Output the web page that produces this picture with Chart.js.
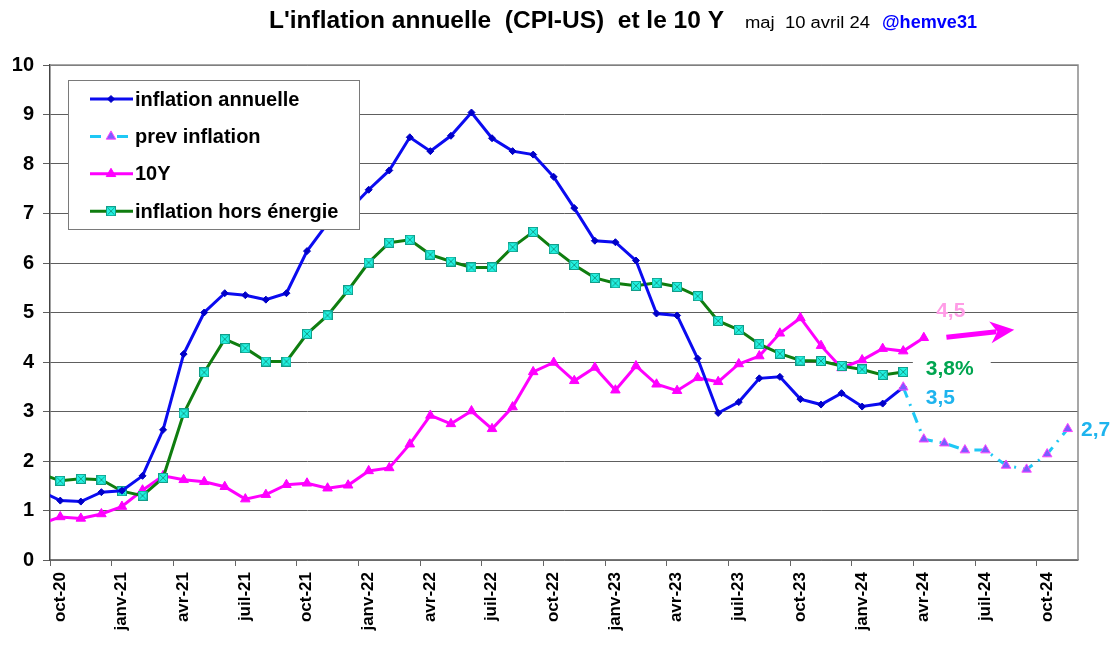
<!DOCTYPE html>
<html>
<head>
<meta charset="utf-8">
<script src="https://cdn.jsdelivr.net/npm/chart.js@4.4.1/dist/chart.umd.min.js"></script>
<style>
  html, body { margin: 0; padding: 0; background: #fff; }
  #chart { display: block; }
</style>
</head>
<body>
<canvas id="chart" width="1118" height="652"></canvas>
<script>
// months, index 0 = sept-20 (only its line segment shows, clipped at the left edge)
const months = [
  "sept-20","oct-20","nov-20","déc-20","janv-21","févr-21","mars-21","avr-21","mai-21","juin-21",
  "juil-21","août-21","sept-21","oct-21","nov-21","déc-21","janv-22","févr-22","mars-22","avr-22",
  "mai-22","juin-22","juil-22","août-22","sept-22","oct-22","nov-22","déc-22","janv-23","févr-23",
  "mars-23","avr-23","mai-23","juin-23","juil-23","août-23","sept-23","oct-23","nov-23","déc-23",
  "janv-24","févr-24","mars-24","avr-24","mai-24","juin-24","juil-24","août-24","sept-24","oct-24","nov-24"
];

const tickLabels = ["oct-20","janv-21","avr-21","juil-21","oct-21","janv-22","avr-22","juil-22","oct-22",
  "janv-23","avr-23","juil-23","oct-23","janv-24","avr-24","juil-24","oct-24"];

const inflation = [1.4, 1.2, 1.18, 1.37, 1.4, 1.7, 2.63, 4.16, 5.0, 5.39, 5.35, 5.26, 5.39, 6.24, 6.8, 7.05,
  7.48, 7.87, 8.54, 8.26, 8.57, 9.04, 8.52, 8.26, 8.19, 7.74, 7.11, 6.45, 6.42, 6.05, 4.98, 4.94, 4.07,
  2.97, 3.19, 3.67, 3.70, 3.25, 3.14, 3.37, 3.10, 3.16, 3.49];

const prevInflation = [null, null, null, null, null, null, null, null, null, null, null, null, null, null,
  null, null, null, null, null, null, null, null, null, null, null, null, null, null, null, null, null,
  null, null, null, null, null, null, null, null, null, null, null,
  3.49, 2.44, 2.36, 2.22, 2.22, 1.91, 1.83, 2.14, 2.65];

const tenYear = [0.72, 0.87, 0.84, 0.93, 1.08, 1.41, 1.70, 1.62, 1.58, 1.48, 1.23, 1.32, 1.52, 1.55, 1.45,
  1.51, 1.80, 1.86, 2.34, 2.92, 2.75, 3.01, 2.65, 3.09, 3.80, 3.99, 3.62, 3.89, 3.43, 3.92, 3.55, 3.42,
  3.68, 3.60, 3.96, 4.12, 4.58, 4.89, 4.33, 3.88, 4.04, 4.27, 4.22, 4.49];

const coreInflation = [1.75, 1.60, 1.64, 1.62, 1.39, 1.30, 1.66, 2.96, 3.79, 4.46, 4.28, 4.01, 4.01, 4.57,
  4.94, 5.45, 6.01, 6.41, 6.47, 6.17, 6.03, 5.91, 5.91, 6.32, 6.63, 6.28, 5.96, 5.70, 5.59, 5.54, 5.60,
  5.52, 5.33, 4.83, 4.65, 4.36, 4.17, 4.03, 4.02, 3.92, 3.85, 3.74, 3.80];

const seriesNames = ["inflation annuelle", "prev inflation", "10Y", "inflation hors énergie"];

// text notes next to the line ends: [x (month index), y (value), text, colour, white box]
const notes = [
  [43.6, 5.03, "4,5", "#ff9ce6", false],
  [43.1, 3.85, "3,8%", "#00a550", true],
  [43.1, 3.27, "3,5", "#1eb4ee", false],
  [50.65, 2.63, "2,7", "#1eb4ee", false]
];
const arrowFrom = [44.1, 4.5];
const arrowTo = [47.4, 4.65];

function toPoints(arr) {
  return arr.map((v, i) => v == null ? null : { x: i, y: v }).filter(Boolean);
}

function boxCross(size) {
  const c = document.createElement("canvas");
  c.width = c.height = size;
  const g = c.getContext("2d");
  g.fillStyle = "#22f2e2";
  g.fillRect(0, 0, size, size);
  g.strokeStyle = "#129e8a";
  g.lineWidth = 1;
  g.strokeRect(0.5, 0.5, size - 1, size - 1);
  g.beginPath();
  g.moveTo(1.5, 1.5); g.lineTo(size - 1.5, size - 1.5);
  g.moveTo(size - 1.5, 1.5); g.lineTo(1.5, size - 1.5);
  g.stroke();
  return c;
}
const coreMarker = boxCross(10);

function fitText(ctx, text, x, y, width) {
  const w = ctx.measureText(text).width;
  ctx.save();
  ctx.translate(x, y);
  ctx.scale(width / w, 1);
  ctx.fillText(text, 0, 0);
  ctx.restore();
}

const decor = {
  id: "decor",
  beforeDraw(chart) {
    const ctx = chart.ctx;
    ctx.save();
    ctx.fillStyle = "#fff";
    ctx.fillRect(0, 0, chart.width, chart.height);
    ctx.restore();
  },
  afterDatasetsDraw(chart) {
    const ctx = chart.ctx;
    const a = chart.chartArea;
    const xs = chart.scales.x, ys = chart.scales.y;
    ctx.save();

    // plot frame (right / top side)
    ctx.strokeStyle = "#8a8a8a";
    ctx.lineWidth = 1.5;
    ctx.beginPath();
    ctx.moveTo(a.left, a.top); ctx.lineTo(a.right, a.top); ctx.lineTo(a.right, a.bottom);
    ctx.stroke();

    // notes
    ctx.font = "bold 21px Arial, 'Liberation Sans', sans-serif";
    ctx.textBaseline = "middle";
    ctx.textAlign = "left";
    notes.forEach(([nx, ny, text, color, box]) => {
      const px = xs.getPixelForValue(nx), py = ys.getPixelForValue(ny);
      if (box) {
        const w = ctx.measureText(text).width;
        ctx.fillStyle = "#fff";
        ctx.fillRect(px - 13, py - 16, w + 30, 32);
      }
      ctx.fillStyle = color;
      ctx.fillText(text, px, py);
    });

    // arrow
    const x1 = xs.getPixelForValue(arrowFrom[0]), y1 = ys.getPixelForValue(arrowFrom[1]);
    const x2 = xs.getPixelForValue(arrowTo[0]), y2 = ys.getPixelForValue(arrowTo[1]);
    const ang = Math.atan2(y2 - y1, x2 - x1);
    const head = 24, half = 11;
    const bx = x2 - head * Math.cos(ang), by = y2 - head * Math.sin(ang);
    ctx.strokeStyle = "#ff00ff";
    ctx.fillStyle = "#ff00ff";
    ctx.lineWidth = 5;
    ctx.beginPath();
    ctx.moveTo(x1, y1);
    ctx.lineTo(bx + 6 * Math.cos(ang), by + 6 * Math.sin(ang));
    ctx.stroke();
    ctx.beginPath();
    ctx.moveTo(x2, y2);
    ctx.lineTo(bx - half * Math.sin(ang), by + half * Math.cos(ang));
    ctx.lineTo(bx + 7 * Math.cos(ang), by + 7 * Math.sin(ang));
    ctx.lineTo(bx + half * Math.sin(ang), by - half * Math.cos(ang));
    ctx.closePath();
    ctx.fill();

    // legend box
    const lx = a.left + 18, ly = a.top + 15, lw = 291, lh = 149;
    ctx.fillStyle = "#fff";
    ctx.fillRect(lx, ly, lw, lh);
    ctx.strokeStyle = "#7a7a7a";
    ctx.lineWidth = 1;
    ctx.strokeRect(lx + 0.5, ly + 0.5, lw, lh);
    ctx.font = "bold 20px Arial, 'Liberation Sans', sans-serif";
    ctx.textBaseline = "middle";
    chart.data.datasets.forEach((ds, i) => {
      const ry = ly + 19 + i * 37.4;
      ctx.strokeStyle = ds.borderColor;
      ctx.lineWidth = ds.borderWidth;
      ctx.setLineDash(ds.borderDash || []);
      ctx.beginPath();
      ctx.moveTo(lx + 22, ry);
      ctx.lineTo(lx + 65, ry);
      ctx.stroke();
      ctx.setLineDash([]);
      const mx = lx + 43;
      if (ds.pointStyle instanceof HTMLCanvasElement) {
        ctx.drawImage(ds.pointStyle, mx - ds.pointStyle.width / 2, ry - ds.pointStyle.height / 2);
      } else {
        ctx.fillStyle = ds.pointBackgroundColor;
        ctx.strokeStyle = ds.pointBorderColor;
        ctx.lineWidth = ds.pointBorderWidth;
        Chart.helpers.drawPoint(ctx, { pointStyle: ds.pointStyle, radius: ds.pointRadius, rotation: 0, borderWidth: ds.pointBorderWidth }, mx, ry);
      }
      ctx.fillStyle = "#000";
      ctx.fillText(ds.label, lx + 67, ry + 1);
    });
    ctx.restore();
  },
  afterDraw(chart) {
    const ctx = chart.ctx;
    ctx.save();
    ctx.textBaseline = "alphabetic";
    ctx.textAlign = "left";
    ctx.fillStyle = "#000";
    ctx.font = "bold 24px Arial, 'Liberation Sans', sans-serif";
    fitText(ctx, "L'inflation annuelle  (CPI-US)  et le 10 Y", 269, 28, 455);
    ctx.font = "16px Arial, 'Liberation Sans', sans-serif";
    fitText(ctx, "maj  10 avril 24", 745, 28, 125);
    ctx.fillStyle = "#0000ff";
    ctx.font = "bold 18px Arial, 'Liberation Sans', sans-serif";
    fitText(ctx, "@hemve31", 882, 28, 95);
    ctx.restore();
  }
};

const datasets = [
  {
    label: seriesNames[0],
    data: toPoints(inflation),
    borderColor: "#0b0bf0",
    borderWidth: 3,
    pointStyle: "rectRot",
    pointRadius: 3.5,
    pointBackgroundColor: "#0000c8",
    pointBorderColor: "#0000c8",
    pointBorderWidth: 1,
    order: 1
  },
  {
    label: seriesNames[1],
    data: toPoints(prevInflation),
    borderColor: "#1ec8f5",
    borderWidth: 3,
    borderDash: [11, 7, 2, 7],
    pointStyle: "triangle",
    pointRadius: 5.5,
    pointBackgroundColor: "#7b5cff",
    pointBorderColor: "#ff44ff",
    pointBorderWidth: 1,
    order: 0
  },
  {
    label: seriesNames[2],
    data: toPoints(tenYear),
    borderColor: "#ff00ff",
    borderWidth: 3,
    pointStyle: "triangle",
    pointRadius: 5.5,
    pointBackgroundColor: "#ff00ff",
    pointBorderColor: "#ff00ff",
    pointBorderWidth: 1,
    order: 3
  },
  {
    label: seriesNames[3],
    data: toPoints(coreInflation),
    borderColor: "#0f7d0f",
    borderWidth: 3,
    pointStyle: coreMarker,
    pointRadius: 5,
    pointBackgroundColor: "#22f2e2",
    pointBorderColor: "#129e8a",
    pointBorderWidth: 1,
    order: 2
  }
];

new Chart(document.getElementById("chart"), {
  type: "line",
  data: { datasets },
  plugins: [decor],
  options: {
    responsive: false,
    devicePixelRatio: 1,
    animation: false,
    layout: { padding: { top: 65, right: 40, left: 0, bottom: 0 } },
    elements: { line: { tension: 0 } },
    plugins: {
      legend: { display: false },
      tooltip: { enabled: false },
      title: { display: false }
    },
    scales: {
      x: {
        type: "linear",
        min: 0.5,
        max: 50.5,
        afterBuildTicks(scale) {
          scale.ticks = tickLabels.map((t, i) => ({ value: 0.5 + 3 * i }));
        },
        afterFit(scale) { scale.height = 92; },
        grid: { drawOnChartArea: false, drawTicks: true, tickLength: 6, color: "#666" },
        border: { display: true, color: "#777", width: 1.5 },
        ticks: {
          autoSkip: false,
          minRotation: 90,
          maxRotation: 90,
          labelOffset: 10,
          padding: 6,
          color: "#000",
          font: { family: "Arial, 'Liberation Sans', sans-serif", size: 17, weight: "bold" },
          callback: (v, i) => tickLabels[i]
        }
      },
      y: {
        min: 0,
        max: 10,
        afterFit(scale) { scale.width = 50; },
        grid: { color: "#5e5e5e", lineWidth: 1, tickLength: 7 },
        border: { display: true, color: "#444", width: 1.5 },
        ticks: {
          stepSize: 1,
          padding: 9,
          color: "#000",
          font: { family: "Arial, 'Liberation Sans', sans-serif", size: 20, weight: "bold" }
        }
      }
    }
  }
});
</script>
</body>
</html>
